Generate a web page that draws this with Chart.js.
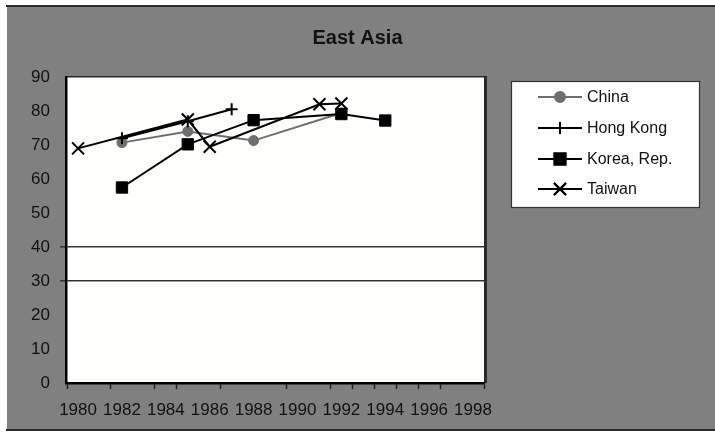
<!DOCTYPE html>
<html>
<head>
<meta charset="utf-8">
<script src="https://cdn.jsdelivr.net/npm/chart.js@4"></script>
<style>
  html, body { margin: 0; padding: 0; background: #ffffff; }
  canvas { display: block; }
</style>
</head>
<body>
<canvas id="chart" width="715" height="433"></canvas>
<script>
// Chart title and series names
const chartTitle = 'East Asia';
const seriesNames = ['China', 'Hong Kong', 'Korea, Rep.', 'Taiwan'];

// Survey years and values for each economy
const chinaYears = [1982, 1985, 1988, 1992];
const chinaValues = [70.7, 74.0, 71.3, 79.4];

const hongKongYears = [1982, 1985, 1987];
const hongKongValues = [72.0, 77.0, 80.5];

const koreaYears = [1982, 1985, 1988, 1992, 1994];
const koreaValues = [57.5, 70.2, 77.3, 79.1, 77.2];

const taiwanYears = [1980, 1985, 1986, 1991, 1992];
const taiwanValues = [69.0, 77.5, 69.5, 82.0, 82.2];

// Axis labels and tick marks
const yearLabels = [1980, 1982, 1984, 1986, 1988, 1990, 1992, 1994, 1996, 1998];
const yearTickMarks = [1979.5, 1981.5, 1983.5, 1984.5, 1986.5, 1989.5, 1991.5,
                       1992.5, 1993.5, 1994.5, 1995.5, 1996.5, 1998.5];
const valueTicks = [0, 10, 20, 30, 40, 50, 60, 70, 80, 90];
const gridValues = [30, 40];

const toPoints = (xs, ys) => xs.map((x, i) => ({ x: x, y: ys[i] }));

const FONT = '"Liberation Sans", Arial, sans-serif';
const TEXT = '#111111';

// Backdrop, plot frame and legend box
const framePlugin = {
  id: 'frame',
  beforeDraw(chart) {
    const { ctx, chartArea: a, width, height } = chart;
    ctx.save();
    ctx.fillStyle = '#ffffff';
    ctx.fillRect(0, 0, width, height);
    ctx.fillStyle = '#808080';
    ctx.fillRect(7, 7, width - 7, height - 11);
    ctx.fillStyle = '#2a2a2a';
    ctx.fillRect(6, 5, width - 6, 2);
    ctx.fillRect(6, height - 4, width - 6, 2);
    ctx.fillStyle = '#fefefc';
    ctx.fillRect(a.left, a.top, a.right - a.left, a.bottom - a.top);
    ctx.fillStyle = '#2a2a2a';
    ctx.fillRect(a.left, a.top - 1, a.right - a.left + 2, 1.5);
    ctx.fillRect(a.right, a.top - 1, 3, a.bottom - a.top + 1);
    ctx.restore();
  },
  afterDraw(chart) {
    const { ctx } = chart;
    const box = { left: 511, top: 81, right: 700, bottom: 208 };
    ctx.save();
    ctx.fillStyle = '#ffffff';
    ctx.fillRect(box.left, box.top, box.right - box.left, box.bottom - box.top);
    ctx.strokeStyle = '#333333';
    ctx.lineWidth = 1.2;
    ctx.strokeRect(box.left + 0.5, box.top + 0.5, box.right - box.left - 1, box.bottom - box.top - 1);
    const rowY = [97, 128, 159, 189];
    chart.data.datasets.forEach((ds, i) => {
      const y = rowY[i];
      ctx.strokeStyle = ds.borderColor;
      ctx.lineWidth = ds.borderWidth;
      ctx.beginPath();
      ctx.moveTo(538, y);
      ctx.lineTo(582, y);
      ctx.stroke();
      Chart.helpers.drawPoint(ctx, {
        pointStyle: ds.pointStyle,
        radius: ds.pointRadius,
        rotation: 0,
        borderWidth: ds.pointBorderWidth
      }, 560, y);
      ctx.fillStyle = ds.pointBackgroundColor;
      ctx.strokeStyle = ds.pointBorderColor;
      ctx.lineWidth = ds.pointBorderWidth;
      ctx.beginPath();
      Chart.helpers.drawPoint(ctx, {
        pointStyle: ds.pointStyle,
        radius: ds.pointRadius,
        rotation: 0,
        borderWidth: ds.pointBorderWidth
      }, 560, y);
      ctx.fillStyle = TEXT;
      ctx.font = '16px ' + FONT;
      ctx.textBaseline = 'middle';
      ctx.textAlign = 'left';
      ctx.fillText(ds.label, 587, y + 1);
    });
    ctx.restore();
  }
};

new Chart(document.getElementById('chart'), {
  type: 'line',
  data: {
    datasets: [
      {
        label: seriesNames[0],
        data: toPoints(chinaYears, chinaValues),
        borderColor: '#6e6e6e', borderWidth: 2,
        pointStyle: 'circle', pointRadius: 5,
        pointBackgroundColor: '#6e6e6e', pointBorderColor: '#6e6e6e', pointBorderWidth: 1,
        order: 1
      },
      {
        label: seriesNames[1],
        data: toPoints(hongKongYears, hongKongValues),
        borderColor: '#000000', borderWidth: 2,
        pointStyle: 'cross', pointRadius: 6,
        pointBackgroundColor: '#000000', pointBorderColor: '#000000', pointBorderWidth: 2,
        order: 0
      },
      {
        label: seriesNames[2],
        data: toPoints(koreaYears, koreaValues),
        borderColor: '#000000', borderWidth: 2,
        pointStyle: 'rect', pointRadius: 8,
        pointBackgroundColor: '#000000', pointBorderColor: '#000000', pointBorderWidth: 1,
        order: 0
      },
      {
        label: seriesNames[3],
        data: toPoints(taiwanYears, taiwanValues),
        borderColor: '#000000', borderWidth: 2,
        pointStyle: 'crossRot', pointRadius: 8.5,
        pointBackgroundColor: '#000000', pointBorderColor: '#000000', pointBorderWidth: 2,
        order: 0
      }
    ]
  },
  options: {
    responsive: false,
    animation: false,
    events: [],
    layout: { padding: { left: 0, right: 0, top: 0, bottom: 0 } },
    plugins: {
      legend: { display: false },
      tooltip: { enabled: false },
      title: {
        display: true,
        text: chartTitle,
        color: TEXT,
        font: { family: FONT, size: 20, weight: 'bold' },
        padding: { top: 26, bottom: 27 }
      }
    },
    scales: {
      x: {
        type: 'linear',
        position: 'bottom',
        min: 1979.45,
        max: 1998.5,
        afterBuildTicks(scale) {
          const vals = yearLabels.concat(yearTickMarks).sort((a, b) => a - b);
          scale.ticks = vals.map(v => ({ value: v }));
        },
        afterFit(scale) { scale.height = 50; },
        ticks: {
          autoSkip: false,
          maxRotation: 0,
          padding: 11,
          color: TEXT,
          font: { family: FONT, size: 17 },
          callback: (v) => yearLabels.includes(v) ? String(v) : ''
        },
        grid: {
          display: true,
          drawOnChartArea: false,
          drawTicks: true,
          tickLength: 6,
          tickWidth: 1.5,
          tickColor: (ctx) => (ctx.tick && yearTickMarks.includes(ctx.tick.value)) ? '#222222' : 'rgba(0,0,0,0)'
        },
        border: { display: true, color: '#000000', width: 2.5 }
      },
      y: {
        type: 'linear',
        position: 'left',
        min: 0,
        max: 90,
        afterBuildTicks(scale) {
          scale.ticks = valueTicks.map(v => ({ value: v }));
        },
        afterFit(scale) { scale.width = 66; },
        ticks: {
          padding: 10,
          color: TEXT,
          font: { family: FONT, size: 17 }
        },
        grid: {
          drawTicks: true,
          tickLength: 6,
          lineWidth: 1.5,
          color: (ctx) => (ctx.tick && gridValues.includes(ctx.tick.value)) ? '#333333' : 'rgba(0,0,0,0)'
        },
        border: { display: true, color: '#000000', width: 2.5 }
      },
      side: {
        type: 'linear',
        position: 'right',
        display: true,
        afterFit(scale) { scale.width = 231; },
        ticks: { display: false },
        grid: { display: false, drawOnChartArea: false },
        border: { display: false }
      }
    }
  },
  plugins: [framePlugin]
});
</script>
</body>
</html>
